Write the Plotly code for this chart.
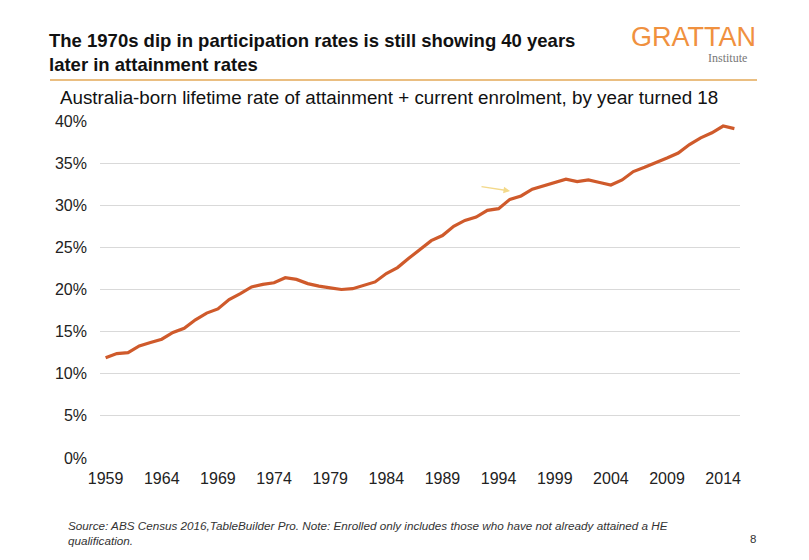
import plotly.graph_objects as go

years = list(range(1959, 2016))
rate = [11.9, 12.4, 12.5, 13.3, 13.7, 14.1, 14.9, 15.4, 16.4, 17.2,
        17.7, 18.8, 19.5, 20.3, 20.6, 20.8, 21.4, 21.2, 20.7, 20.4,
        20.2, 20.0, 20.1, 20.5, 20.9, 21.9, 22.6, 23.7, 24.7, 25.8,
        26.4, 27.5, 28.2, 28.6, 29.4, 29.6, 30.7, 31.1, 31.9, 32.3,
        32.7, 33.1, 32.8, 33.0, 32.7, 32.4, 33.0, 34.0, 34.5, 35.0,
        35.6, 36.2, 37.2, 38.0, 38.6, 39.4, 39.1]
tick_years = list(range(1959, 2015, 5))
y_ticks = [0, 5, 10, 15, 20, 25, 30, 35, 40]

# page body has an 8px margin, so work in reference pixels and shift
OFF = 8
W, H = 809 - 2 * OFF, 560 - 2 * OFF
L, R, T, B = 100, 740, 121, 458


def px(x):
    return (x - L) / (R - L)


def py(y):
    return (B - y) / (B - T)


fig = go.Figure()
fig.add_trace(go.Scatter(x=years, y=rate, mode="lines",
                         line=dict(color="#CF5A2B", width=3.2),
                         hoverinfo="skip", showlegend=False))

fig.update_xaxes(range=[1958.5, 2015.5], tickvals=tick_years,
                 showgrid=False, zeroline=False, showline=False,
                 ticks="", ticklabelstandoff=9,
                 tickfont=dict(size=16, color="#222"))
fig.update_yaxes(range=[0, 40], tickvals=y_ticks,
                 ticktext=[f"{v}%" for v in y_ticks],
                 showgrid=True, gridcolor="#D9D9D9", gridwidth=1,
                 zeroline=False, showline=False, ticks="",
                 ticklabelstandoff=12,
                 tickfont=dict(size=16, color="#222"))

anns = [
    dict(x=px(47), y=py(53), xanchor="left", yanchor="middle", align="left",
         text="<b>The 1970s dip in participation rates is still showing 40 years<br>later in attainment rates</b>",
         font=dict(size=18.5, color="#111")),
    dict(x=px(58), y=py(97), xanchor="left", yanchor="middle",
         text="Australia-born lifetime rate of attainment + current enrolment, by year turned 18",
         font=dict(size=18.8, color="#111")),
    dict(x=px(758), y=py(37), xanchor="right", yanchor="middle", height=28,
         text="GRATTAN", font=dict(size=27, color="#F0913F")),
    dict(x=px(749), y=py(58), xanchor="right", yanchor="middle",
         text="Institute", font=dict(size=12, color="#777", family="Liberation Serif")),
    dict(x=px(66), y=py(533), xanchor="left", yanchor="middle", align="left",
         text="<i>Source: ABS Census 2016,TableBuilder Pro. Note: Enrolled only includes those who have not already attained a HE<br>qualification.</i>",
         font=dict(size=11.7, color="#333")),
    dict(x=px(753), y=py(539), xanchor="center", yanchor="middle",
         text="8", font=dict(size=11.5, color="#333")),
    dict(x=px(510), y=py(191), ax=-30, ay=-4.5, axref="pixel", ayref="pixel",
         text="", showarrow=True,
         arrowhead=2, arrowsize=1, arrowwidth=1.3, arrowcolor="#F3D98A"),
]
for a in anns:
    a.setdefault("xref", "paper")
    a.setdefault("yref", "paper")
    a.setdefault("showarrow", False)
    fig.add_annotation(**a)

fig.add_shape(type="line", xref="paper", yref="paper",
              x0=px(50), x1=px(757), y0=py(80), y1=py(80),
              line=dict(color="#E3A857", width=1.5))

fig.update_layout(width=W, height=H,
                  margin=dict(l=L - OFF, r=W - (R - OFF), t=T - OFF, b=H - (B - OFF)),
                  paper_bgcolor="white", plot_bgcolor="white",
                  font=dict(family="Liberation Sans, Arial, sans-serif"))

fig.write_html("out.html")
